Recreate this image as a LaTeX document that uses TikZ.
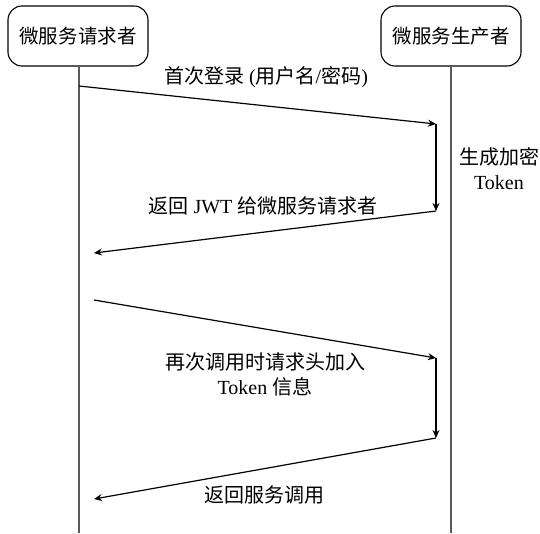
\documentclass[tikz,border=0pt]{standalone}
\usepackage{fontspec}
\setmainfont{Liberation Serif}
\newfontfamily\zhfont{Noto Sans CJK SC}
\newcommand{\zh}[1]{{\zhfont #1}}
\usetikzlibrary{arrows.meta}
\begin{document}
\begin{tikzpicture}[x=1pt,y=-1pt,
  actor/.style={draw, line width=1.1pt, rounded corners=14pt, minimum width=140pt, minimum height=60pt, inner sep=0pt, font=\fontsize{19.5}{23}\selectfont},
  life/.style={draw=black!65, line width=1.4pt},
  msg/.style={line width=1.2pt, -{Stealth[length=8pt,width=7pt]}},
  lbl/.style={font=\fontsize{20}{25}\selectfont, align=center, inner sep=0pt}]
\useasboundingbox (0,0) rectangle (540,533);
% actors
\node[actor] (req) at (78,36) {\zh{微服务请求者}};
\node[actor] (pro) at (451,36) {\zh{微服务生产者}};
\coordinate (reqEnd) at (79,533);
\coordinate (proEnd) at (451,533);
\draw[life] (req.south -| reqEnd) -- (reqEnd);
\draw[life] (pro.south) -- (proEnd);
% message points
\coordinate (a1s) at (79,86);
\coordinate (a1e) at (436,124);
\coordinate (v1e) at (436,211);
\coordinate (a2e) at (94,253);
\coordinate (a3s) at (94,300);
\coordinate (a3e) at (436,358);
\coordinate (v2e) at (436,438);
\coordinate (a4e) at (94,499);
\draw[msg] (a1s) -- (a1e);
\draw[msg] (a1e) -- (v1e);
\draw[msg] (v1e) -- (a2e);
\draw[msg] (a3s) -- (a3e);
\draw[msg] (a3e) -- (v2e);
\draw[msg] (v2e) -- (a4e);
% labels
\node[lbl] (l1) at (266,77) {\zh{首次登录} (\zh{用户名}/\zh{密码})};
\node[lbl] (l2) at (499,169) {\zh{生成加密}\\Token};
\node[lbl] (l3) at (263,206) {\zh{返回} JWT \zh{给微服务请求者}};
\node[lbl] (l4) at (265,374) {\zh{再次调用时请求头加入}\\Token \zh{信息}};
\node[lbl] (l5) at (264,495) {\zh{返回服务调用}};
\end{tikzpicture}
\end{document}
